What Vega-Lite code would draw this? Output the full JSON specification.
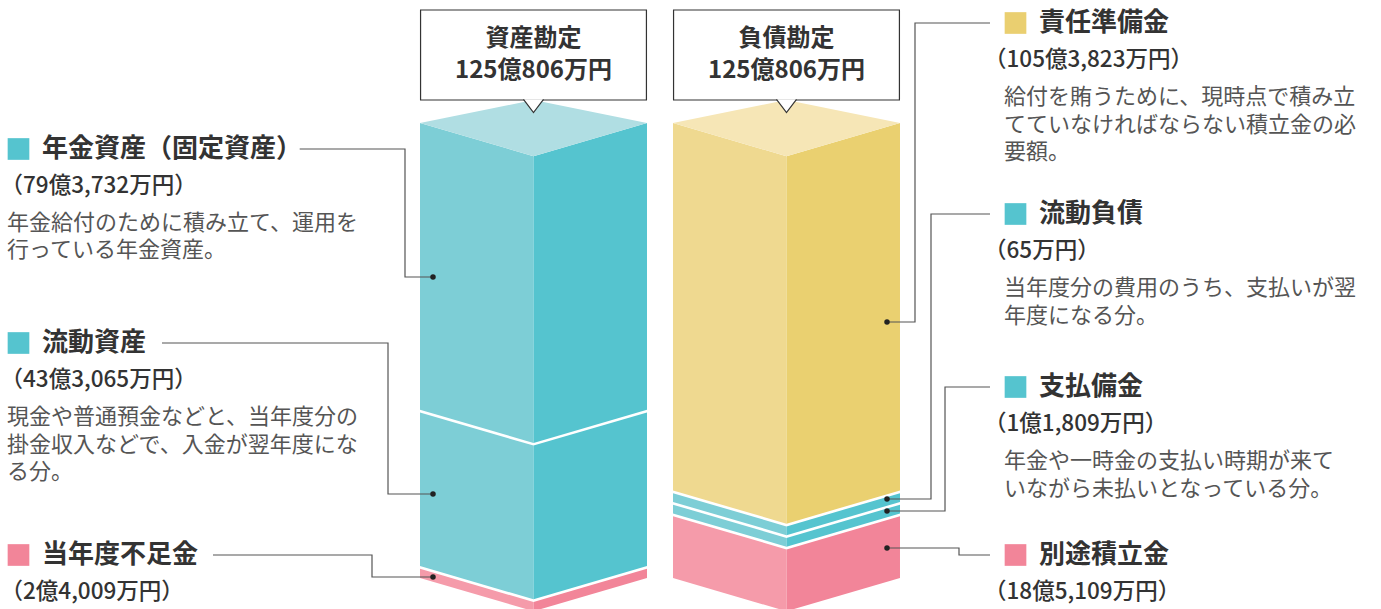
{
  "$schema": "https://vega.github.io/schema/vega-lite/v6.json",
  "width": 1381,
  "height": 609,
  "autosize": {"type": "none"},
  "padding": 0,
  "background": "#ffffff",
  "config": {"view": {"stroke": null}, "font": "Noto Sans CJK JP"},
  "datasets": {
    "items": [
      {"side": "資産", "item": "年金資産", "amount": 79.3732, "order": 1, "title": "年金資産（固定資産）", "amountText": "（79億3,732万円）", "desc": ["年金給付のために積み立て、運用を", "行っている年金資産。"]},
      {"side": "資産", "item": "流動資産", "amount": 43.3065, "order": 2, "title": "流動資産", "amountText": "（43億3,065万円）", "desc": ["現金や普通預金などと、当年度分の", "掛金収入などで、入金が翌年度にな", "る分。"]},
      {"side": "資産", "item": "当年度不足金", "amount": 2.4009, "order": 3, "title": "当年度不足金", "amountText": "（2億4,009万円）", "desc": []},
      {"side": "負債", "item": "責任準備金", "amount": 105.3823, "order": 1, "title": "責任準備金", "amountText": "（105億3,823万円）", "desc": ["給付を賄うために、現時点で積み立", "てていなければならない積立金の必", "要額。"]},
      {"side": "負債", "item": "流動負債", "amount": 0.0065, "order": 2, "title": "流動負債", "amountText": "（65万円）", "desc": ["当年度分の費用のうち、支払いが翌", "年度になる分。"]},
      {"side": "負債", "item": "支払備金", "amount": 1.1809, "order": 3, "title": "支払備金", "amountText": "（1億1,809万円）", "desc": ["年金や一時金の支払い時期が来て", "いながら未払いとなっている分。"]},
      {"side": "負債", "item": "別途積立金", "amount": 18.5109, "order": 4, "title": "別途積立金", "amountText": "（18億5,109万円）", "desc": []}
    ],
    "sides": [
      {"side": "資産", "name": "資産勘定", "total": "125億806万円", "totalAmount": 125.0806},
      {"side": "負債", "name": "負債勘定", "total": "125億806万円", "totalAmount": 125.0806}
    ],
    "leaders": [
      {"item": "年金資産", "seq": 0, "u": -1.06, "v": 0.94286},
      {"item": "年金資産", "seq": 1, "u": -0.1322, "v": 0.94286},
      {"item": "年金資産", "seq": 2, "u": -0.1322, "v": 0.66154},
      {"item": "年金資産", "seq": 3, "u": 0.1145, "v": 0.66154},
      {"item": "流動資産", "seq": 0, "u": -2.2731, "v": 0.51648},
      {"item": "流動資産", "seq": 1, "u": -0.2819, "v": 0.51648},
      {"item": "流動資産", "seq": 2, "u": -0.2819, "v": 0.18462},
      {"item": "流動資産", "seq": 3, "u": 0.1145, "v": 0.18462},
      {"item": "当年度不足金", "seq": 0, "u": -1.8238, "v": 0.05055},
      {"item": "当年度不足金", "seq": 1, "u": -0.4229, "v": 0.05055},
      {"item": "当年度不足金", "seq": 2, "u": -0.4229, "v": 0.0022},
      {"item": "当年度不足金", "seq": 3, "u": 0.1145, "v": 0.0022},
      {"item": "責任準備金", "seq": 0, "u": 5.022, "v": 1.21978},
      {"item": "責任準備金", "seq": 1, "u": 4.3612, "v": 1.21978},
      {"item": "責任準備金", "seq": 2, "u": 4.3612, "v": 0.56264},
      {"item": "責任準備金", "seq": 3, "u": 4.1145, "v": 0.56264},
      {"item": "流動負債", "seq": 0, "u": 5.022, "v": 0.8},
      {"item": "流動負債", "seq": 1, "u": 4.5022, "v": 0.8},
      {"item": "流動負債", "seq": 2, "u": 4.5022, "v": 0.17363},
      {"item": "流動負債", "seq": 3, "u": 4.1145, "v": 0.17363},
      {"item": "支払備金", "seq": 0, "u": 5.022, "v": 0.41978},
      {"item": "支払備金", "seq": 1, "u": 4.6256, "v": 0.41978},
      {"item": "支払備金", "seq": 2, "u": 4.6256, "v": 0.14725},
      {"item": "支払備金", "seq": 3, "u": 4.1145, "v": 0.14725},
      {"item": "別途積立金", "seq": 0, "u": 5.022, "v": 0.05055},
      {"item": "別途積立金", "seq": 1, "u": 4.7489, "v": 0.05055},
      {"item": "別途積立金", "seq": 2, "u": 4.7489, "v": 0.06593},
      {"item": "別途積立金", "seq": 3, "u": 4.1145, "v": 0.06593}
    ]
  },
  "layer": [
    {
      "data": {"name": "items"},
      "transform": [
        {"calculate": "max(datum.amount, 3.3)", "as": "shown"},
        {"stack": "shown", "groupby": ["side"], "sort": [{"field": "order", "order": "descending"}], "offset": "normalize", "as": ["v0", "v1"]},
        {"calculate": "datum.v1 > 0.999 ? datum.v1 : datum.v1 - 0.006", "as": "vt"},
        {"calculate": "datum.side == '資産' ? 0 : 2.229", "as": "colU"},
        {"calculate": "[0, 1, 2]", "as": "c"},
        {"flatten": ["c"]},
        {"calculate": "datum.colU + datum.c", "as": "u"},
        {"calculate": "datum.c == 1 ? 0.073 : 0", "as": "off"},
        {"calculate": "datum.v0 - datum.off", "as": "lo"},
        {"calculate": "datum.vt - datum.off", "as": "hi"}
      ],
      "layer": [
        {
          "transform": [{"filter": "datum.c <= 1"}],
          "mark": {"type": "area", "orient": "vertical", "opacity": 1},
          "encoding": {
            "x": {"field": "u", "type": "quantitative", "scale": {"domain": [-3.70044, 8.46696], "nice": false, "zero": false}, "axis": null},
            "y": {"field": "lo", "type": "quantitative", "stack": null, "scale": {"domain": [-0.06813, 1.27033], "nice": false, "zero": false}, "axis": null},
            "y2": {"field": "hi"},
            "detail": {"field": "item", "type": "nominal"},
            "color": {"field": "item", "type": "nominal", "legend": null, "scale": {"domain": ["年金資産", "流動資産", "当年度不足金", "責任準備金", "流動負債", "支払備金", "別途積立金"], "range": ["#7DCED6", "#7DCED6", "#F59BAA", "#EFD990", "#7DCED6", "#7DCED6", "#F59BAA"]}}
          }
        },
        {
          "transform": [{"filter": "datum.c >= 1"}],
          "mark": {"type": "area", "orient": "vertical", "opacity": 1},
          "encoding": {
            "x": {"field": "u", "type": "quantitative", "scale": {"domain": [-3.70044, 8.46696], "nice": false, "zero": false}, "axis": null},
            "y": {"field": "lo", "type": "quantitative", "stack": null, "scale": {"domain": [-0.06813, 1.27033], "nice": false, "zero": false}, "axis": null},
            "y2": {"field": "hi"},
            "detail": {"field": "item", "type": "nominal"},
            "color": {"field": "item", "type": "nominal", "legend": null, "scale": {"domain": ["年金資産", "流動資産", "当年度不足金", "責任準備金", "流動負債", "支払備金", "別途積立金"], "range": ["#55C4CF", "#55C4CF", "#F28599", "#EAD070", "#55C4CF", "#55C4CF", "#F28599"]}}
          }
        },
        {
          "transform": [
            {"filter": "datum.order == 1"},
            {"calculate": "1 - datum.off", "as": "tlo"},
            {"calculate": "datum.c == 1 ? 1.0505 : 1", "as": "thi"}
          ],
          "mark": {"type": "area", "orient": "vertical", "opacity": 1},
          "encoding": {
            "x": {"field": "u", "type": "quantitative", "scale": {"domain": [-3.70044, 8.46696], "nice": false, "zero": false}, "axis": null},
            "y": {"field": "tlo", "type": "quantitative", "stack": null, "scale": {"domain": [-0.06813, 1.27033], "nice": false, "zero": false}, "axis": null},
            "y2": {"field": "thi"},
            "detail": {"field": "side", "type": "nominal"},
            "color": {"field": "side", "type": "nominal", "legend": null, "scale": {"domain": ["資産", "負債"], "range": ["#B0DEE3", "#F6E6B6"]}}
          }
        }
      ],
      "resolve": {"scale": {"color": "independent"}}
    },
    {
      "data": {"name": "sides"},
      "transform": [
        {"calculate": "datum.side == '資産' ? 0 : 2.229", "as": "colU"},
        {"calculate": "datum.colU + 0.005", "as": "bx0"},
        {"calculate": "datum.colU + 1.995", "as": "bx1"},
        {"calculate": "datum.colU + 1", "as": "bxc"}
      ],
      "layer": [
        {
          "mark": {"type": "rect", "fill": "#ffffff", "stroke": "#333333", "strokeWidth": 1.2},
          "encoding": {
            "x": {"field": "bx0", "type": "quantitative", "scale": {"domain": [-3.70044, 8.46696], "nice": false, "zero": false}, "axis": null},
            "x2": {"field": "bx1"},
            "y": {"datum": 1.05055, "type": "quantitative", "scale": {"domain": [-0.06813, 1.27033], "nice": false, "zero": false}, "axis": null},
            "y2": {"datum": 1.24835}
          }
        },
        {
          "mark": {"type": "point", "shape": "M -1 -0.72 L 0 0.6 L 1 -0.72", "size": 400, "fill": "#ffffff", "stroke": "#333333", "strokeWidth": 1.2, "opacity": 1, "fillOpacity": 1},
          "encoding": {
            "x": {"field": "bxc", "type": "quantitative", "scale": {"domain": [-3.70044, 8.46696], "nice": false, "zero": false}, "axis": null},
            "y": {"datum": 1.03626, "type": "quantitative", "scale": {"domain": [-0.06813, 1.27033], "nice": false, "zero": false}, "axis": null}
          }
        },
        {
          "mark": {"type": "text", "fontSize": 24, "fontWeight": "bold", "color": "#333333", "align": "center", "baseline": "middle"},
          "encoding": {
            "x": {"field": "bxc", "type": "quantitative", "scale": {"domain": [-3.70044, 8.46696], "nice": false, "zero": false}, "axis": null},
            "y": {"datum": 1.18462, "type": "quantitative", "scale": {"domain": [-0.06813, 1.27033], "nice": false, "zero": false}, "axis": null},
            "text": {"field": "name", "type": "nominal"}
          }
        },
        {
          "mark": {"type": "text", "fontSize": 24, "fontWeight": "bold", "color": "#333333", "align": "center", "baseline": "middle"},
          "encoding": {
            "x": {"field": "bxc", "type": "quantitative", "scale": {"domain": [-3.70044, 8.46696], "nice": false, "zero": false}, "axis": null},
            "y": {"datum": 1.11429, "type": "quantitative", "scale": {"domain": [-0.06813, 1.27033], "nice": false, "zero": false}, "axis": null},
            "text": {"field": "total", "type": "nominal"}
          }
        }
      ]
    },
    {
      "data": {"name": "leaders"},
      "layer": [
        {
          "mark": {"type": "line", "color": "#555555", "strokeWidth": 1.2, "interpolate": "linear"},
          "encoding": {
            "x": {"field": "u", "type": "quantitative", "scale": {"domain": [-3.70044, 8.46696], "nice": false, "zero": false}, "axis": null},
            "y": {"field": "v", "type": "quantitative", "scale": {"domain": [-0.06813, 1.27033], "nice": false, "zero": false}, "axis": null},
            "detail": {"field": "item", "type": "nominal"},
            "order": {"field": "seq", "type": "quantitative"}
          }
        },
        {
          "transform": [{"filter": "datum.seq == 3"}],
          "mark": {"type": "point", "filled": true, "size": 30, "color": "#222222", "opacity": 1},
          "encoding": {
            "x": {"field": "u", "type": "quantitative", "scale": {"domain": [-3.70044, 8.46696], "nice": false, "zero": false}, "axis": null},
            "y": {"field": "v", "type": "quantitative", "scale": {"domain": [-0.06813, 1.27033], "nice": false, "zero": false}, "axis": null}
          }
        }
      ]
    },
    {
      "data": {"name": "leaders"},
      "transform": [
        {"filter": "datum.seq == 0"},
        {"lookup": "item", "from": {"data": {"name": "items"}, "key": "item", "fields": ["side", "title", "amountText", "desc"]}},
        {"calculate": "datum.side == '資産' ? -3.6388 : 5.1454", "as": "labelU"},
        {"calculate": "datum.side == '資産' ? -3.6960 : 4.969", "as": "amtU"}
      ],
      "layer": [
        {
          "mark": {"type": "point", "shape": "square", "filled": true, "size": 470, "opacity": 1, "xOffset": 11.5},
          "encoding": {
            "x": {"field": "labelU", "type": "quantitative", "scale": {"domain": [-3.70044, 8.46696], "nice": false, "zero": false}, "axis": null},
            "y": {"field": "v", "type": "quantitative", "scale": {"domain": [-0.06813, 1.27033], "nice": false, "zero": false}, "axis": null},
            "color": {"field": "item", "type": "nominal", "legend": null, "scale": {"domain": ["年金資産", "流動資産", "当年度不足金", "責任準備金", "流動負債", "支払備金", "別途積立金"], "range": ["#55C4CF", "#55C4CF", "#F28599", "#EACF70", "#55C4CF", "#55C4CF", "#F28599"]}}
          }
        },
        {
          "mark": {"type": "text", "fontSize": 26, "fontWeight": "bold", "color": "#333333", "align": "left", "baseline": "middle", "dx": 35},
          "encoding": {
            "x": {"field": "labelU", "type": "quantitative", "scale": {"domain": [-3.70044, 8.46696], "nice": false, "zero": false}, "axis": null},
            "y": {"field": "v", "type": "quantitative", "scale": {"domain": [-0.06813, 1.27033], "nice": false, "zero": false}, "axis": null},
            "text": {"field": "title", "type": "nominal"}
          }
        },
        {
          "mark": {"type": "text", "fontSize": 22.5, "fontWeight": 500, "color": "#333333", "align": "left", "baseline": "middle", "dy": 37},
          "encoding": {
            "x": {"field": "amtU", "type": "quantitative", "scale": {"domain": [-3.70044, 8.46696], "nice": false, "zero": false}, "axis": null},
            "y": {"field": "v", "type": "quantitative", "scale": {"domain": [-0.06813, 1.27033], "nice": false, "zero": false}, "axis": null},
            "text": {"field": "amountText", "type": "nominal"}
          }
        },
        {
          "mark": {"type": "text", "font": "DejaVu Sans, Noto Sans CJK JP", "fontSize": 22, "color": "#555555", "align": "left", "baseline": "alphabetic", "dx": 0, "dy": 81, "lineHeight": 27.5},
          "encoding": {
            "x": {"field": "labelU", "type": "quantitative", "scale": {"domain": [-3.70044, 8.46696], "nice": false, "zero": false}, "axis": null},
            "y": {"field": "v", "type": "quantitative", "scale": {"domain": [-0.06813, 1.27033], "nice": false, "zero": false}, "axis": null},
            "text": {"field": "desc", "type": "nominal"}
          }
        }
      ],
      "resolve": {"scale": {"color": "independent"}}
    }
  ],
  "resolve": {"scale": {"color": "independent"}}
}
